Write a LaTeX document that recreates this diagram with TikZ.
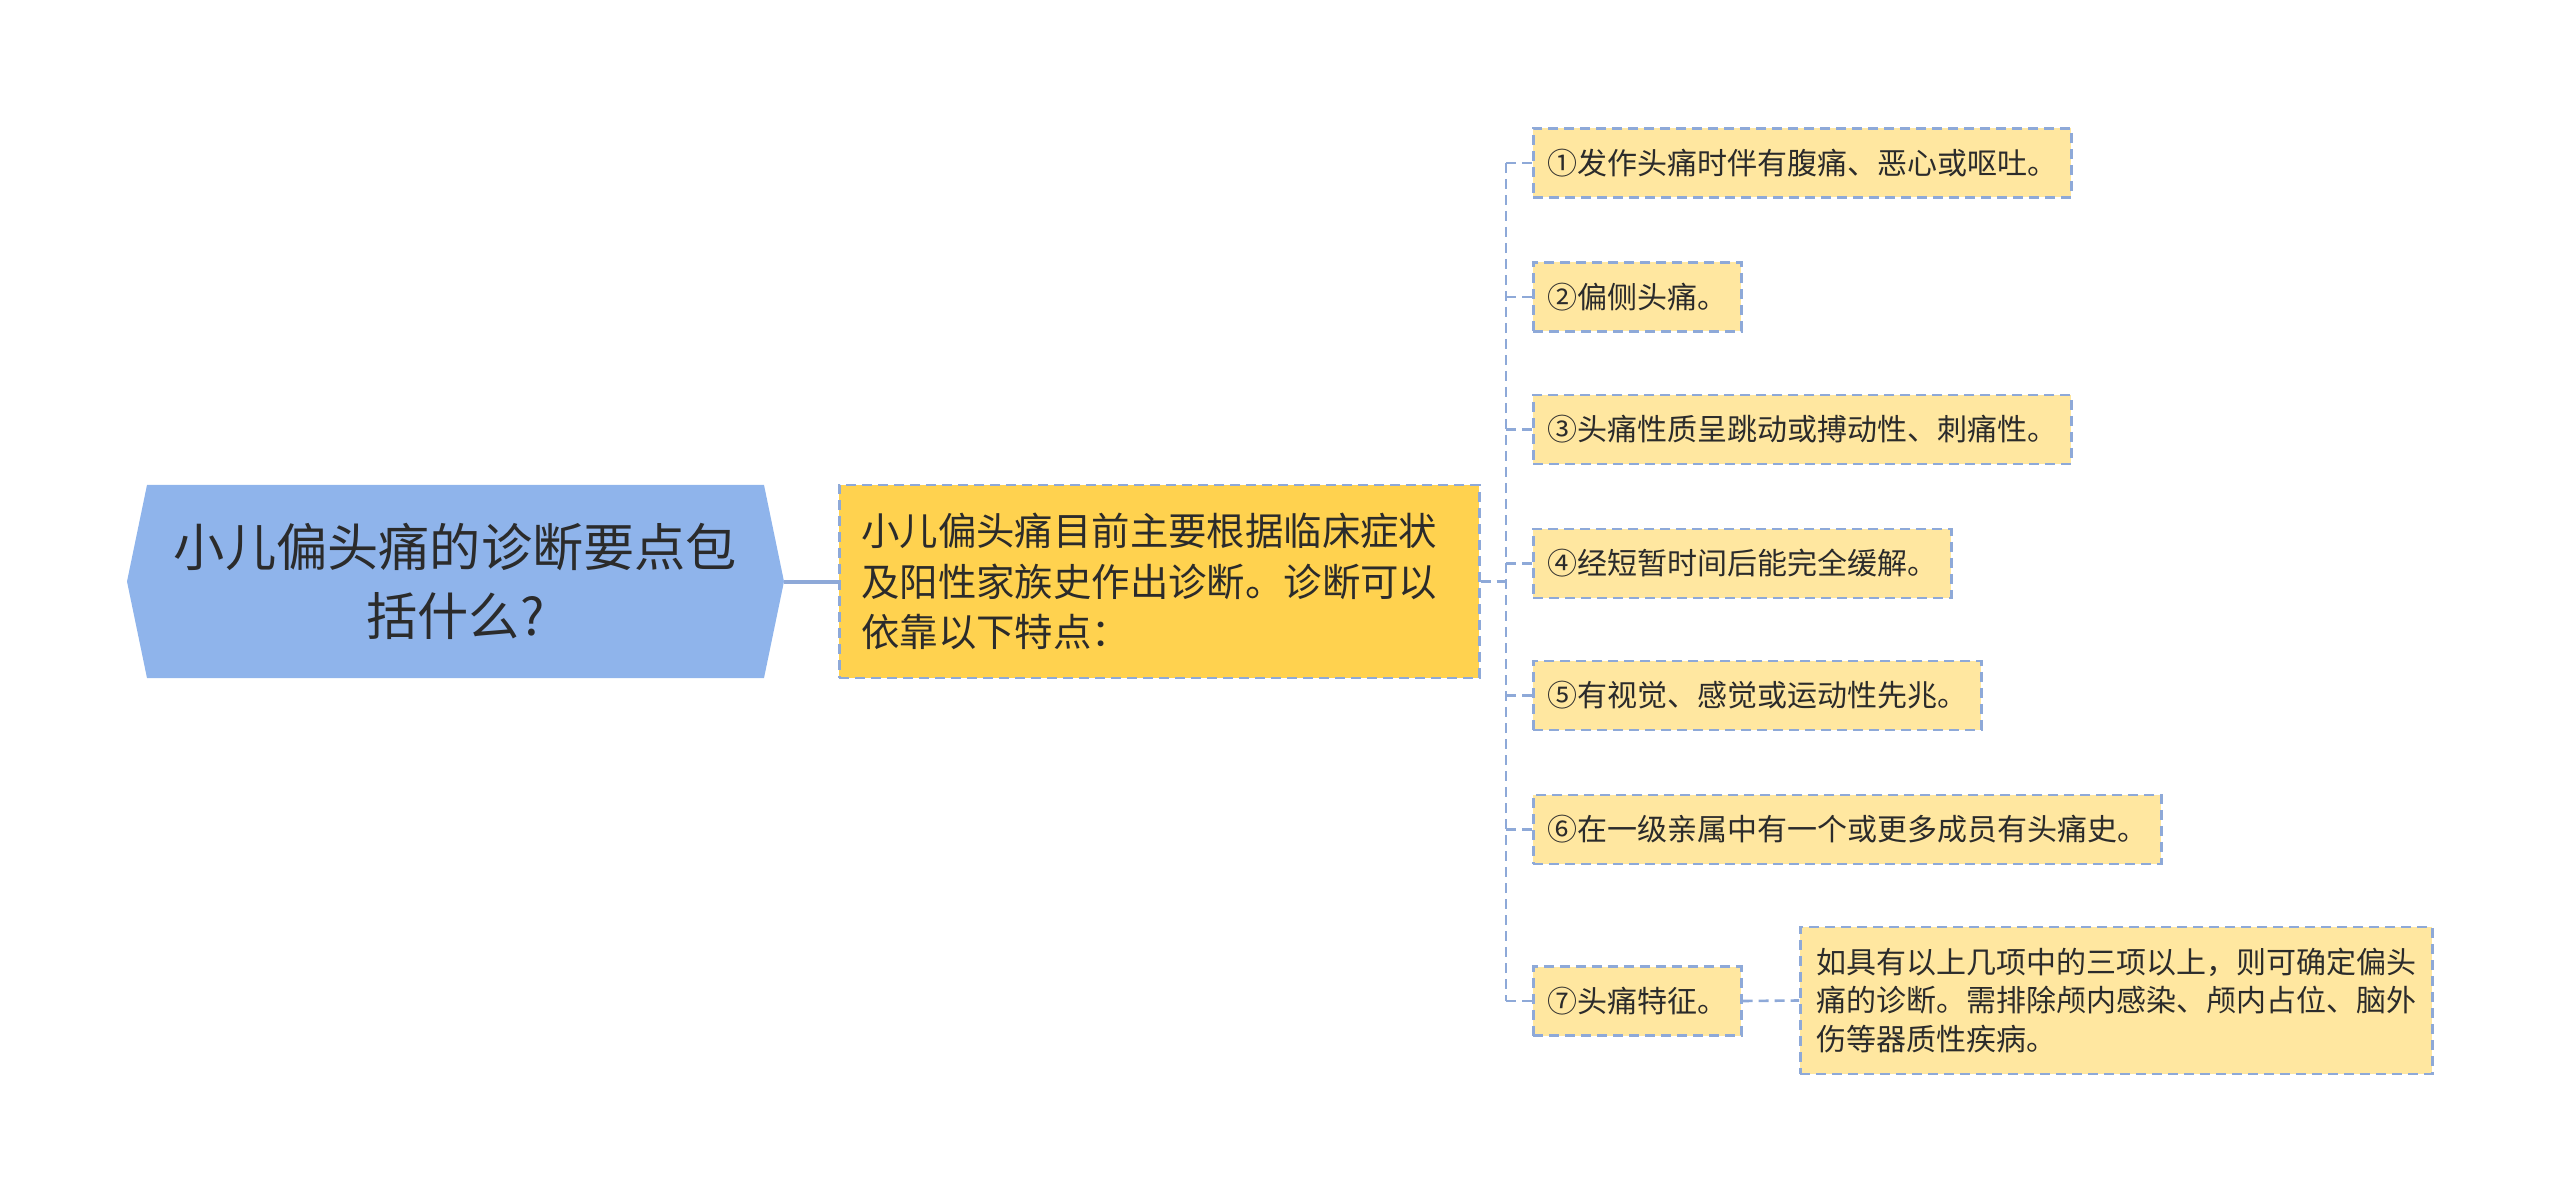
\documentclass[tikz,border=0pt]{standalone}
\usepackage{fontspec}
\setmainfont{Noto Sans CJK SC}
\usetikzlibrary{positioning}
\definecolor{rootblue}{HTML}{8FB4EB}
\definecolor{mainyellow}{HTML}{FFD24F}
\definecolor{leafyellow}{HTML}{FFE7A0}
\definecolor{linkblue}{HTML}{8EA9D8}
\definecolor{inkgray}{HTML}{2B2B2B}

\begin{document}
\begin{tikzpicture}[x=0.5pt,y=-0.5pt,
  leaf/.style={draw=linkblue, fill=leafyellow, line width=1.3pt, dash pattern=on 5pt off 3pt,
    anchor=west, inner xsep=7pt, minimum height=34.5pt, text=inkgray,
    font=\fontsize{15pt}{19pt}\selectfont},
  link/.style={draw=linkblue, line width=1.3pt, dash pattern=on 5pt off 3pt}]

\useasboundingbox (0,0) rectangle (2560,1203);

% root hexagon
\fill[rootblue] (127,581.5)--(147,485)--(764,485)--(784,581.5)--(764,678)--(147,678)--cycle;
\node[text=inkgray, minimum width=328.5pt, minimum height=96.5pt, align=center,
  font=\fontsize{25.6pt}{34.3pt}\selectfont] (root) at (455.5,581.5) {小儿偏头痛的诊断要点包\\括什么?};

% main topic
\node[draw=linkblue, fill=mainyellow, line width=1.3pt, dash pattern=on 5pt off 3pt, anchor=west,
  inner xsep=11pt, text width=298pt, minimum height=96.5pt, align=left, text=inkgray,
  font=\fontsize{19.2pt}{25.3pt}\selectfont] (main) at (838,581.5)
  {小儿偏头痛目前主要根据临床症状\\及阳性家族史作出诊断。诊断可以\\依靠以下特点：};

\draw[linkblue, line width=2pt] (root.east) -- (main.west);

% features
\coordinate (bus) at (1506,581.5);
\node[leaf] (c1) at (1532,163) {①发作头痛时伴有腹痛、恶心或呕吐。};
\node[leaf] (c2) at (1532,297) {②偏侧头痛。};
\node[leaf] (c3) at (1532,429.5) {③头痛性质呈跳动或搏动性、刺痛性。};
\node[leaf] (c4) at (1532,563.5) {④经短暂时间后能完全缓解。};
\node[leaf] (c5) at (1532,695.5) {⑤有视觉、感觉或运动性先兆。};
\node[leaf] (c6) at (1532,829.5) {⑥在一级亲属中有一个或更多成员有头痛史。};
\node[leaf] (c7) at (1532,1001) {⑦头痛特征。};

\node[leaf, text width=300pt, inner xsep=8pt, minimum height=73.5pt, align=left,
  font=\fontsize{15pt}{19.2pt}\selectfont] (g7) at (1799,1000.5)
  {如具有以上几项中的三项以上，则可确定偏头\\痛的诊断。需排除颅内感染、颅内占位、脑外\\伤等器质性疾病。};

\draw[link] (main.east) -- (bus);
\draw[link] (bus |- c1.west) -- (bus |- c7.west);
\foreach \i in {1,...,7}
  \draw[link] (bus |- c\i.west) -- (c\i.west);
\draw[link] (c7.east) -- (g7.west);

\end{tikzpicture}
\end{document}
